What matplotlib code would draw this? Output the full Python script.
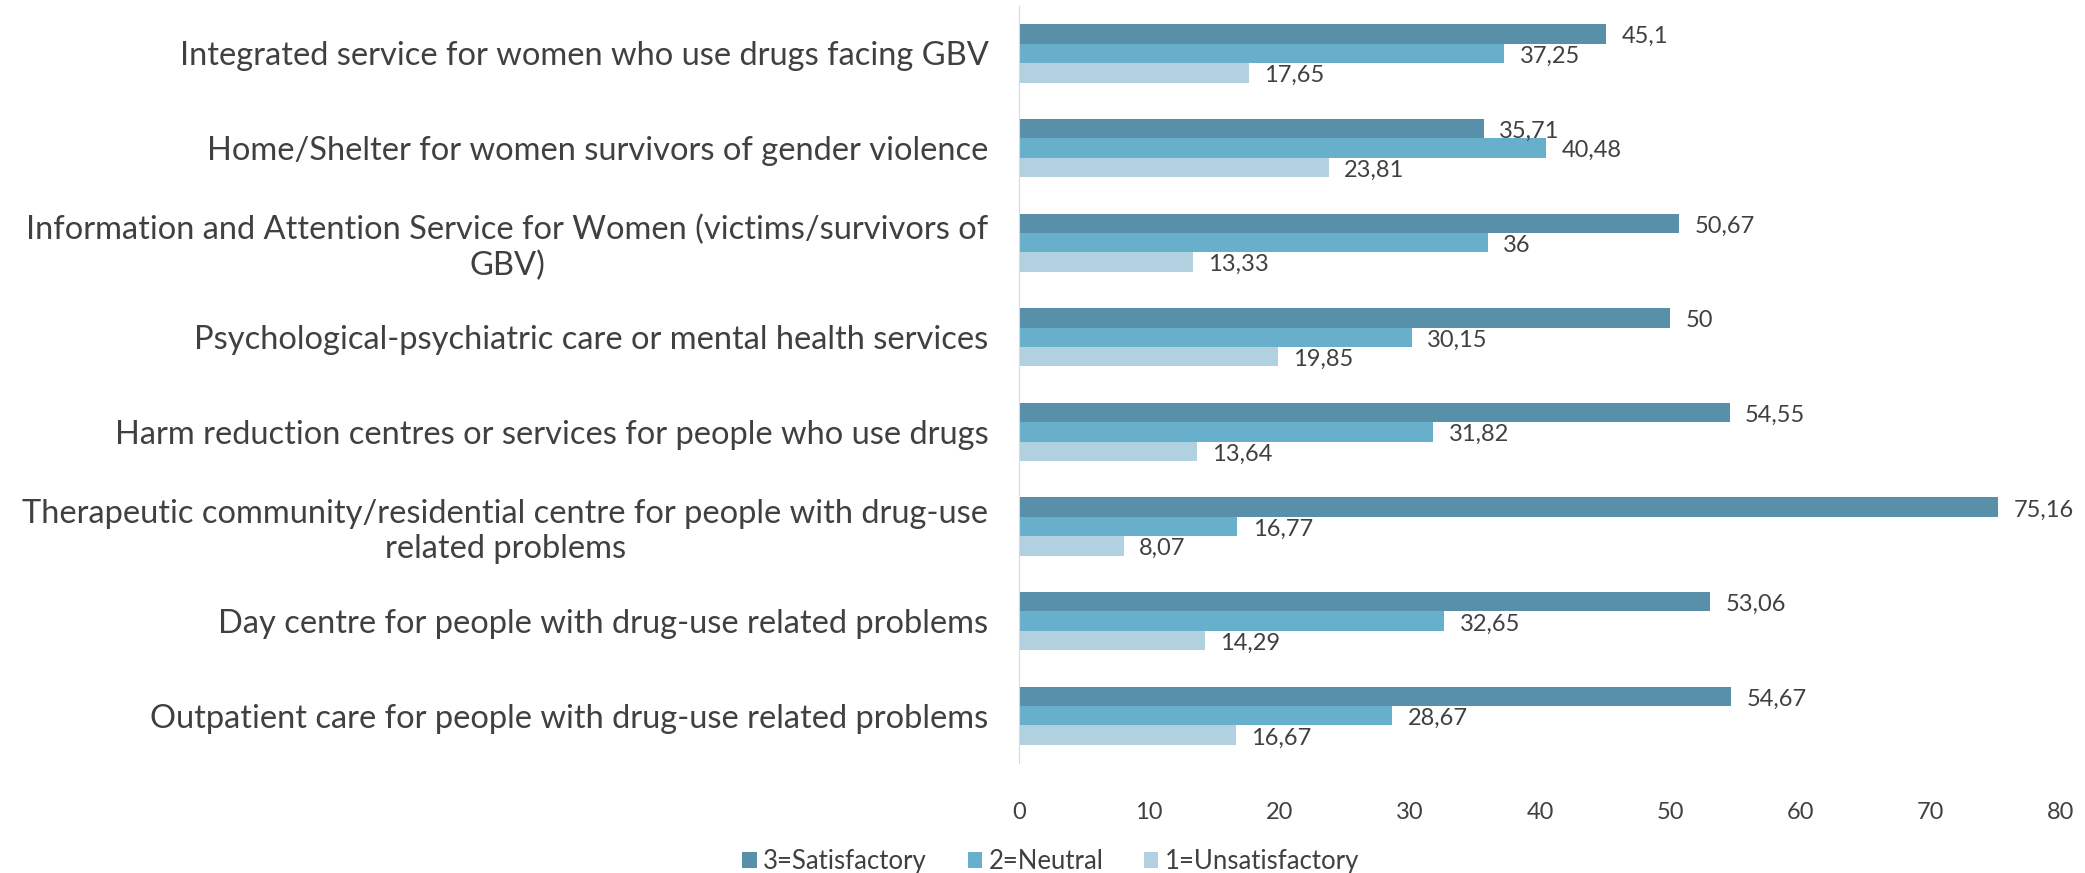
"""Satisfaction with services: grouped horizontal bars."""

import matplotlib
matplotlib.use("Agg")
import matplotlib.pyplot as plt
import numpy as np

categories = [
    "Integrated service for women who use drugs facing GBV",
    "Home/Shelter for women survivors of gender violence",
    "Information and Attention Service for Women (victims/survivors of\nGBV)",
    "Psychological-psychiatric care or mental health services",
    "Harm reduction centres or services for people who use drugs",
    "Therapeutic community/residential centre for people with drug-use\nrelated problems",
    "Day centre for people with drug-use related problems",
    "Outpatient care for people with drug-use related problems",
]
satisfactory = [45.1, 35.71, 50.67, 50, 54.55, 75.16, 53.06, 54.67]
neutral = [37.25, 40.48, 36, 30.15, 31.82, 16.77, 32.65, 28.67]
unsatisfactory = [17.65, 23.81, 13.33, 19.85, 13.64, 8.07, 14.29, 16.67]
series_names = ["3=Satisfactory", "2=Neutral", "1=Unsatisfactory"]
colors = ["#5790a8", "#67afcb", "#b1d1e0"]
x_ticks = [0, 10, 20, 30, 40, 50, 60, 70, 80]

TEXT = "#404040"
plt.rcParams["font.family"] = ["Lato", "DejaVu Sans"]

fig = plt.figure(figsize=(20.85, 8.73), dpi=100)
ax = fig.add_axes([0.4887, 0.126, 0.4998, 0.867])

y = np.arange(len(categories))
h = 0.205
series = [satisfactory, neutral, unsatisfactory]
for k, (vals, name, col) in enumerate(zip(series, series_names, colors)):
    pos = y + (k - 1) * h
    ax.barh(pos, vals, height=h, color=col, label=name)
    for p, v in zip(pos, vals):
        ax.annotate(f"{v:g}".replace(".", ","), (v, p), xytext=(11, -2),
                    textcoords="offset points", va="center", ha="left",
                    fontsize=17, color=TEXT)

ax.set_ylim(len(categories) - 0.5, -0.5)
ax.set_xlim(0, 80)
ax.set_xticks(x_ticks)
ax.set_yticks(y)
ax.set_yticklabels(categories, multialignment="center")
ax.tick_params(axis="x", length=0, pad=28, labelsize=17, labelcolor=TEXT)
ax.tick_params(axis="y", length=0, pad=22, labelsize=23.5, labelcolor=TEXT)
for s in ["top", "right", "bottom"]:
    ax.spines[s].set_visible(False)
ax.spines["left"].set_color("#d9d9d9")

leg = fig.legend(loc="center", bbox_to_anchor=(0.504, 0.013), ncol=3,
                 frameon=False, fontsize=18.5, handlelength=0.55, handleheight=0.55,
                 handletextpad=0.25, columnspacing=1.6)
for t in leg.get_texts():
    t.set_color(TEXT)

fig.savefig("out.png", dpi=100)
